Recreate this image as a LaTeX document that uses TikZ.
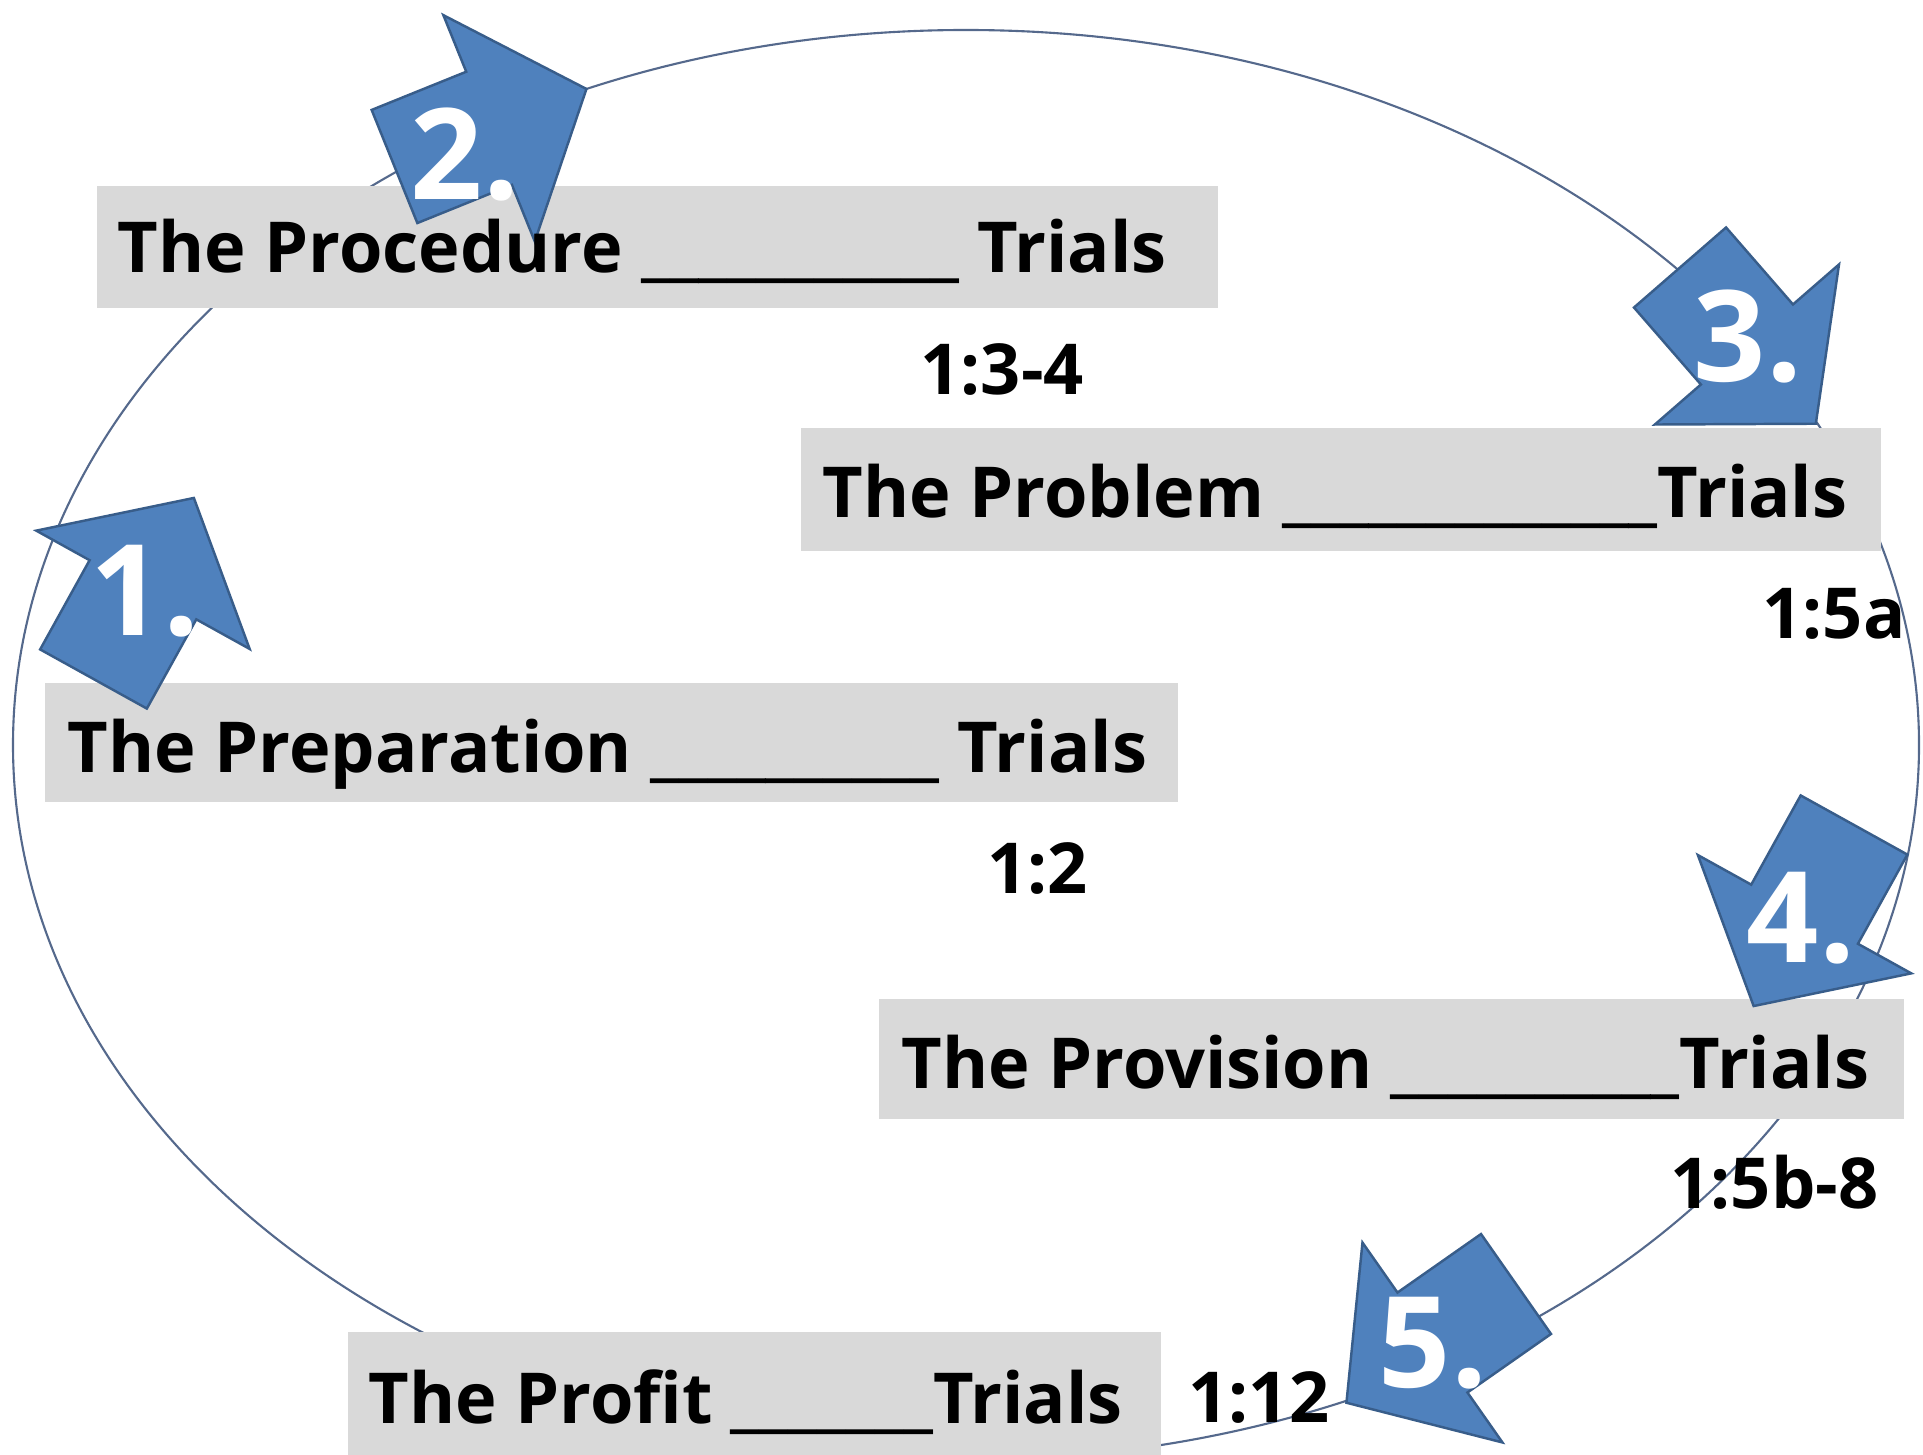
\documentclass[tikz,border=0pt]{standalone}
\usepackage{fontspec}
\setmainfont{Open Sans}
\usepackage{tikz}

\definecolor{stepblue}{RGB}{79,129,189}
\definecolor{stepedge}{RGB}{56,93,138}
\definecolor{boxgray}{RGB}{217,217,217}
\definecolor{ringline}{RGB}{85,105,140}

\begin{document}
\begin{tikzpicture}[
		ring/.style={draw=ringline,line width=0.6pt},
		graybox/.style={shape=rectangle,fill=boxgray,inner sep=0pt,anchor=south west},
		steparrow/.style={fill=stepblue,draw=stepedge,line width=0.7pt,line join=miter},
		title/.style={font=\bfseries\fontsize{20}{24}\selectfont,inner sep=0pt,anchor=base west},
		stepnum/.style={font=\bfseries\fontsize{36}{40}\selectfont,text=white,inner sep=0pt,anchor=base}
	]
		\useasboundingbox (0,0) rectangle (19.23,14.54);
		
		\draw[ring] (9.66,7.09) ellipse [x radius=9.53, y radius=7.15];
		
		\node[graybox,minimum width=11.21cm,minimum height=1.22cm] (ProcedureBox) at (0.96,11.45) {};
		\node[graybox,minimum width=10.80cm,minimum height=1.23cm] (ProblemBox) at (8.00,9.02) {};
		\node[graybox,minimum width=11.33cm,minimum height=1.19cm] (PreparationBox) at (0.44,6.51) {};
		\node[graybox,minimum width=10.25cm,minimum height=1.20cm] (ProvisionBox) at (8.78,3.34) {};
		\node[graybox,minimum width=8.13cm,minimum height=1.25cm] (ProfitBox) at (3.47,-0.04) {};
		
		\foreach \px/\py/\ang/\n/\nx/\ny in {0.935/7.75/61/1/1.45/8.19, 3.945/12.875/22/2/4.65/12.54, 16.80/11.865/-49/3/17.48/10.72, 18.54/6.29/-119/4/18.01/4.92, 15.16/1.70/215/5/14.33/0.67} {
			\begin{scope}[shift={(\px,\py)},rotate=\ang]
				\draw[steparrow] (0,-0.61) -- (1.02,-0.61) -- (1.02,-1.22) -- (2.07,0) -- (1.02,1.22) -- (1.02,0.61) -- (0,0.61) -- cycle;
			\end{scope}
			\node[stepnum] (Step\n) at (\nx,\ny) {\n.};
		}
		
		\node[title] (Procedure) at (1.17,11.81) {The Procedure \_\_\_\_\_\_\_\_\_\_\_ Trials};
		\node[title] (Problem) at (8.22,9.36) {The Problem \_\_\_\_\_\_\_\_\_\_\_\_\_Trials};
		\node[title] (Preparation) at (0.67,6.82) {The Preparation \_\_\_\_\_\_\_\_\_\_ Trials};
		\node[title] (Provision) at (9.01,3.66) {The Provision \_\_\_\_\_\_\_\_\_\_Trials};
		\node[title] (Profit) at (3.68,0.31) {The Profit \_\_\_\_\_\_\_Trials};
		
		\node[title] (VerseProcedure) at (9.20,10.59) {1:3-4};
		\node[title] (VerseProblem) at (17.62,8.16) {1:5a};
		\node[title] (VersePreparation) at (9.87,5.61) {1:2};
		\node[title] (VerseProvision) at (16.70,2.46) {1:5b-8};
		\node[title] (VerseProfit) at (11.88,0.32) {1:12};
		
	\end{tikzpicture}
\end{document}
